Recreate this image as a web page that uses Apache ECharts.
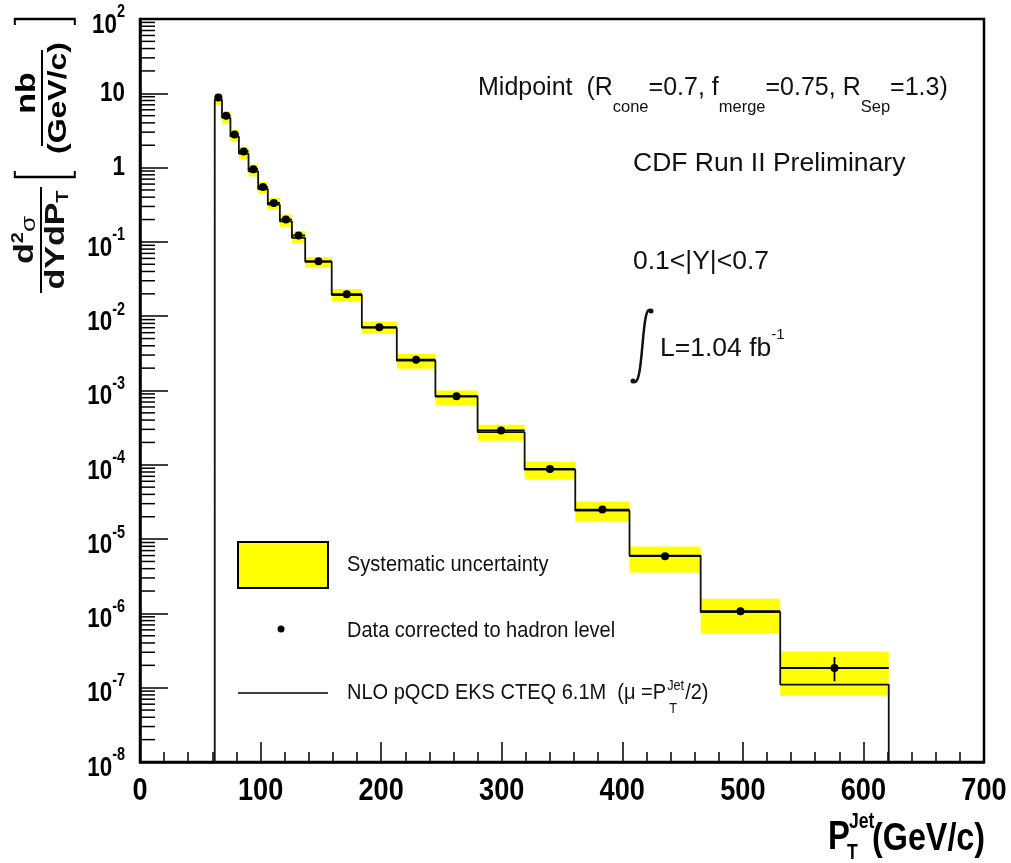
<!DOCTYPE html>
<html>
<head>
<meta charset="utf-8">
<script src="https://cdn.jsdelivr.net/npm/echarts@6/dist/echarts.min.js"></script>
<style>
  html, body { margin: 0; padding: 0; background: #fff; }
  #chart { width: 1011px; height: 863px; }
</style>
</head>
<body>
<div id="chart"></div>
<script>
// jet pT bin edges, GeV/c
const binEdges = [62, 68, 75, 82, 90, 98, 106, 116, 126, 137, 159, 184, 213, 245, 280, 319, 361, 406, 465, 531, 621]
// NLO pQCD EKS CTEQ 6.1M, nb/(GeV/c)
const nloValues = [8.2, 4.7, 2.63, 1.54, 0.89, 0.515, 0.317, 0.189, 0.113, 0.054, 0.0193, 0.0070, 0.00252, 8.3e-4, 2.76e-4, 8.6e-5, 2.41e-5, 6.0e-6, 1.04e-6, 1.10e-7]
// data corrected to hadron level
const dataX = [65, 71.5, 78.5, 86, 94, 102, 111, 121, 131.5, 148, 171.5, 198.5, 229, 262.5, 299.5, 340, 383.5, 435.5, 498, 576]
const dataValues = [8.8, 5.0, 2.8, 1.65, 0.95, 0.55, 0.335, 0.2, 0.122, 0.055, 0.0198, 0.0071, 0.0026, 8.4e-4, 2.9e-4, 8.8e-5, 2.5e-5, 5.9e-6, 1.07e-6, 1.84e-7]
const statLow = [8.7, 4.95, 2.77, 1.63, 0.94, 0.544, 0.331, 0.197, 0.12, 0.054, 0.0195, 0.0070, 0.00255, 8.25e-4, 2.84e-4, 8.55e-5, 2.36e-5, 5.4e-6, 9.5e-7, 1.22e-7]
const statHigh = [8.9, 5.05, 2.83, 1.67, 0.96, 0.556, 0.339, 0.203, 0.124, 0.056, 0.0201, 0.0072, 0.00265, 8.55e-4, 2.96e-4, 9.05e-5, 2.65e-5, 6.4e-6, 1.2e-6, 2.59e-7]
// systematic uncertainty band
const sysLow = [7.0, 4.0, 2.25, 1.3, 0.76, 0.45, 0.27, 0.16, 0.097, 0.0459, 0.0158, 0.0058, 0.00196, 6.4e-4, 2.11e-4, 6.4e-5, 1.71e-5, 3.56e-6, 5.44e-7, 7.8e-8]
const sysHigh = [10.0, 5.7, 3.2, 1.9, 1.1, 0.64, 0.39, 0.235, 0.14, 0.0627, 0.0232, 0.0085, 0.0031, 1.0e-3, 3.47e-4, 1.11e-4, 3.2e-5, 7.98e-6, 1.58e-6, 3.08e-7]

// axes and tick labels
const xMin = 0, xMax = 700, xStep = 100
const yMin = 1e-8, yMax = 1e2
const xTickValues = [0, 100, 200, 300, 400, 500, 600, 700]
const xTickLabels = ['0', '100', '200', '300', '400', '500', '600', '700']
const yTickExponents = [-8, -7, -6, -5, -4, -3, -2, -1, 0, 1, 2]

const FONT = '"Liberation Sans", Arial, sans-serif'

const ctx = document.createElement('canvas').getContext('2d')
function textWidth(str, size, weight) {
	ctx.font = (weight || 'normal') + ' ' + size + 'px ' + FONT
	return ctx.measureText(str).width
}

// step path of the theory curve
const nloPath = [[binEdges[0], yMin]]
nloValues.forEach((v, i) => {
	nloPath.push([binEdges[i], v])
	nloPath.push([binEdges[i + 1], v])
})
nloPath.push([binEdges[binEdges.length - 1], yMin])

const bandData = nloValues.map((v, i) => [binEdges[i], binEdges[i + 1], sysLow[i], sysHigh[i]])
const pointData = dataValues.map((v, i) => [binEdges[i], binEdges[i + 1], dataX[i], v, statLow[i], statHigh[i]])

// minor ticks of the log axis at 2..9 x 10^k
const yMinorTicks = []
for (let k = -8; k < 2; k++) {
	for (let m = 2; m <= 9; m++) yMinorTicks.push([0, m * Math.pow(10, k)])
}

const chart = echarts.init(document.getElementById('chart'))

function txt(x, y, text, size, opts) {
	opts = opts || {}
	return {
		type: 'text', x: x, y: y, silent: true, scaleX: opts.sx || 1,
		style: {
			text: text, fontSize: size, fontFamily: FONT, fontWeight: opts.weight || 'normal',
			fill: opts.color || '#111', align: opts.align || 'left', textAlign: opts.align || 'left',
			verticalAlign: opts.va || 'middle', textVerticalAlign: opts.va || 'middle', rich: opts.rich
		}
	}
}

const midRich = {
	m: { fontSize: 25, fontFamily: FONT, color: '#111', lineHeight: 56, verticalAlign: 'middle' },
	s: { fontSize: 16.5, fontFamily: FONT, color: '#111', lineHeight: 16, verticalAlign: 'bottom' }
}
const lumiRich = {
	m: { fontSize: 26.5, fontFamily: FONT, color: '#111', lineHeight: 44, verticalAlign: 'middle' },
	p: { fontSize: 15, fontFamily: FONT, color: '#111', lineHeight: 15, verticalAlign: 'top' }
}

// legend line with stacked P_T^Jet
const legX = 347, legS = 0.91
const nloMain = 'NLO pQCD EKS CTEQ 6.1M  (\u03bc =P'
const nloW = textWidth(nloMain, 22) * legS
const jetW = textWidth('Jet', 14) * legS

chart.setOption({
	animation: false,
	backgroundColor: '#fff',
	grid: {
		left: 140, top: 19, right: 27, bottom: 101,
		show: true, borderColor: '#000', borderWidth: 2.5,
		outerBoundsMode: 'none'
	},
	xAxis: {
		type: 'value', min: xMin, max: xMax, interval: xStep,
		axisLine: { lineStyle: { color: '#000', width: 2.5 } },
		axisTick: { inside: true, length: 20, lineStyle: { color: '#000', width: 1.5 } },
		minorTick: { show: true, splitNumber: 5, length: 10, lineStyle: { color: '#000', width: 1.5 } },
		splitLine: { show: false },
		axisLabel: { show: false }
	},
	yAxis: {
		type: 'log', logBase: 10, min: yMin, max: yMax, interval: 1,
		axisLine: { lineStyle: { color: '#000', width: 2.5 } },
		axisTick: { inside: true, length: 28, lineStyle: { color: '#000', width: 1.5 } },
		splitLine: { show: false },
		axisLabel: { show: false }
	},
	series: [
		{
			type: 'custom', name: 'Systematic uncertainty', data: bandData,
			encode: { x: [0, 1], y: [2, 3] }, z: 1,
			renderItem: function (params, api) {
				const a = api.coord([api.value(0), api.value(3)])
				const b = api.coord([api.value(1), api.value(2)])
				return { type: 'rect', shape: { x: a[0], y: a[1], width: b[0] - a[0], height: b[1] - a[1] }, style: { fill: '#ffff00' } }
			}
		},
		{
			type: 'custom', name: 'minor', data: yMinorTicks,
			encode: { x: 0, y: 1 }, z: 5, silent: true,
			renderItem: function (params, api) {
				const p = api.coord([api.value(0), api.value(1)])
				return { type: 'line', shape: { x1: p[0], y1: p[1], x2: p[0] + 15, y2: p[1] }, style: { stroke: '#000', lineWidth: 1.5 } }
			}
		},
		{
			type: 'line', name: 'NLO', data: nloPath, symbol: 'none', z: 3,
			lineStyle: { color: '#111', width: 1.8 }
		},
		{
			type: 'custom', name: 'Data', data: pointData,
			encode: { x: [0, 1, 2], y: [3, 4, 5] }, z: 4,
			renderItem: function (params, api) {
				const l = api.coord([api.value(0), api.value(3)])
				const r = api.coord([api.value(1), api.value(3)])
				const c = api.coord([api.value(2), api.value(3)])
				const lo = api.coord([api.value(2), api.value(4)])
				const hi = api.coord([api.value(2), api.value(5)])
				return {
					type: 'group', children: [
						{ type: 'line', shape: { x1: l[0], y1: l[1], x2: r[0], y2: r[1] }, style: { stroke: '#000', lineWidth: 1.8 } },
						{ type: 'line', shape: { x1: c[0], y1: hi[1], x2: c[0], y2: lo[1] }, style: { stroke: '#000', lineWidth: 1.8 } },
						{ type: 'circle', shape: { cx: c[0], cy: c[1], r: 4 }, style: { fill: '#000' } }
					]
				}
			}
		},
		{
			// x tick labels (condensed bold like the original)
			type: 'custom', name: 'xlabels', data: xTickValues.map(v => [v, yMin]),
			encode: { x: 0, y: 1 }, z: 6, silent: true, clip: false,
			renderItem: function (params, api) {
				const p = api.coord([api.value(0), api.value(1)])
				return {
					type: 'text', x: p[0], y: p[1] + 13, scaleX: 0.85,
					style: { text: xTickLabels[params.dataIndex], fontSize: 32, fontWeight: 'bold', fontFamily: FONT, fill: '#000', align: 'center', textAlign: 'center', verticalAlign: 'top', textVerticalAlign: 'top' }
				}
			}
		},
		{
			// y tick labels 10^n
			type: 'custom', name: 'ylabels', data: yTickExponents.map(e => [0, Math.pow(10, e)]),
			encode: { x: 0, y: 1 }, z: 6, silent: true, clip: false,
			renderItem: function (params, api) {
				const p = api.coord([api.value(0), api.value(1)])
				const e = yTickExponents[params.dataIndex]
				const hasSup = e !== 0 && e !== 1
				const t = e === 0 ? '{b|1}' : e === 1 ? '{b|10}' : '{b|10}{s|' + e + '}'
				return {
					type: 'text', x: p[0] - 15, y: p[1] + (hasSup ? 6 : 0), scaleX: 0.8,
					style: {
						text: t, align: 'right', textAlign: 'right', verticalAlign: 'middle', textVerticalAlign: 'middle',
						rich: {
							b: { fontSize: 28, fontWeight: 'bold', fontFamily: FONT, color: '#000', lineHeight: 43, verticalAlign: 'middle' },
							s: { fontSize: 18, fontWeight: 'bold', fontFamily: FONT, color: '#000', lineHeight: 17, verticalAlign: 'top' }
						}
					}
				}
			}
		}
	],
	graphic: [
		// annotations
		txt(478, 88, '{m|Midpoint  (R}{s|cone}{m|=0.7, f}{s|merge}{m|=0.75, R}{s|Sep}{m|=1.3)}', 25, { rich: midRich }),
		txt(633, 164, 'CDF Run II Preliminary', 26.5),
		txt(633, 262, '0.1<|Y|<0.7', 26.5),
		{ type: 'bezierCurve', silent: true, shape: { x1: 652, y1: 312, cpx1: 640, cpy1: 294, cpx2: 645, cpy2: 398, x2: 632, y2: 380 }, style: { stroke: '#111', lineWidth: 2.5, fill: null } },
		{ type: 'circle', silent: true, shape: { cx: 651, cy: 311, r: 2.5 }, style: { fill: '#111' } },
		{ type: 'circle', silent: true, shape: { cx: 633, cy: 381, r: 2.5 }, style: { fill: '#111' } },
		txt(660, 349, '{m|L=1.04 fb}{p|-1}', 26.5, { rich: lumiRich }),
		// legend
		{ type: 'rect', silent: true, shape: { x: 238, y: 542, width: 90, height: 46 }, style: { fill: '#ffff00', stroke: '#000', lineWidth: 2 } },
		txt(legX, 565, 'Systematic uncertainty', 22, { sx: legS }),
		{ type: 'circle', silent: true, shape: { cx: 281, cy: 629, r: 3.5 }, style: { fill: '#000' } },
		txt(legX, 631, 'Data corrected to hadron level', 22, { sx: legS }),
		{ type: 'line', silent: true, shape: { x1: 238, y1: 693, x2: 328, y2: 693 }, style: { stroke: '#000', lineWidth: 1.5 } },
		txt(legX, 693, nloMain, 22, { sx: legS }),
		txt(legX + nloW + 1, 686, 'Jet', 14, { sx: legS }),
		txt(legX + nloW + 3, 709, 'T', 14, { sx: legS }),
		txt(legX + nloW + jetW + 2, 693, '/2)', 22, { sx: legS }),
		// x axis title
		txt(828, 838, 'P', 40, { weight: 'bold', color: '#000', sx: 0.82 }),
		txt(849, 822, 'Jet', 22, { weight: 'bold', color: '#000', sx: 0.8 }),
		txt(847, 853, 'T', 22, { weight: 'bold', color: '#000', sx: 0.8 }),
		txt(872, 840, '(GeV/c)', 38, { weight: 'bold', color: '#000', sx: 0.85 }),
		// y axis title: d2sigma / dYdPT
		{
			type: 'group', x: 41, y: 240, rotation: Math.PI / 2, scaleY: 0.8, silent: true,
			children: [
				txt(0, -20, '{b|d}{s|2}{g|\u03c3}', 34, {
					align: 'center', rich: {
						b: { fontSize: 34, fontWeight: 'bold', fontFamily: FONT, color: '#000', lineHeight: 36, verticalAlign: 'bottom' },
						s: { fontSize: 20, fontWeight: 'bold', fontFamily: FONT, color: '#000', lineHeight: 20, verticalAlign: 'top' },
						g: { fontSize: 26, fontFamily: FONT, color: '#000', lineHeight: 30, verticalAlign: 'bottom' }
					}
				}),
				{ type: 'line', shape: { x1: -53, y1: 0, x2: 53, y2: 0 }, style: { stroke: '#000', lineWidth: 2.5 } },
				txt(0, 20, '{b|dYdP}{s|T}', 34, {
					align: 'center', rich: {
						b: { fontSize: 34, fontWeight: 'bold', fontFamily: FONT, color: '#000', lineHeight: 36, verticalAlign: 'top' },
						s: { fontSize: 20, fontWeight: 'bold', fontFamily: FONT, color: '#000', lineHeight: 20, verticalAlign: 'bottom' }
					}
				})
			]
		},
		// y axis title: [nb / (GeV/c)]
		{
			type: 'group', x: 42, y: 98, rotation: Math.PI / 2, scaleY: 0.8, silent: true,
			children: [
				txt(5, -18, 'nb', 34, { align: 'center', weight: 'bold', color: '#000' }),
				{ type: 'line', shape: { x1: -48, y1: 0, x2: 48, y2: 0 }, style: { stroke: '#000', lineWidth: 2.5 } },
				txt(0, 21, '(GeV/c)', 32, { align: 'center', weight: 'bold', color: '#000' }),
				{ type: 'polyline', shape: { points: [[-73, -34], [-79, -34], [-79, 41], [-73, 41]] }, style: { stroke: '#000', lineWidth: 2.5, fill: null } },
				{ type: 'polyline', shape: { points: [[73, -34], [79, -34], [79, 41], [73, 41]] }, style: { stroke: '#000', lineWidth: 2.5, fill: null } }
			]
		}
	]
})
</script>
</body>
</html>
